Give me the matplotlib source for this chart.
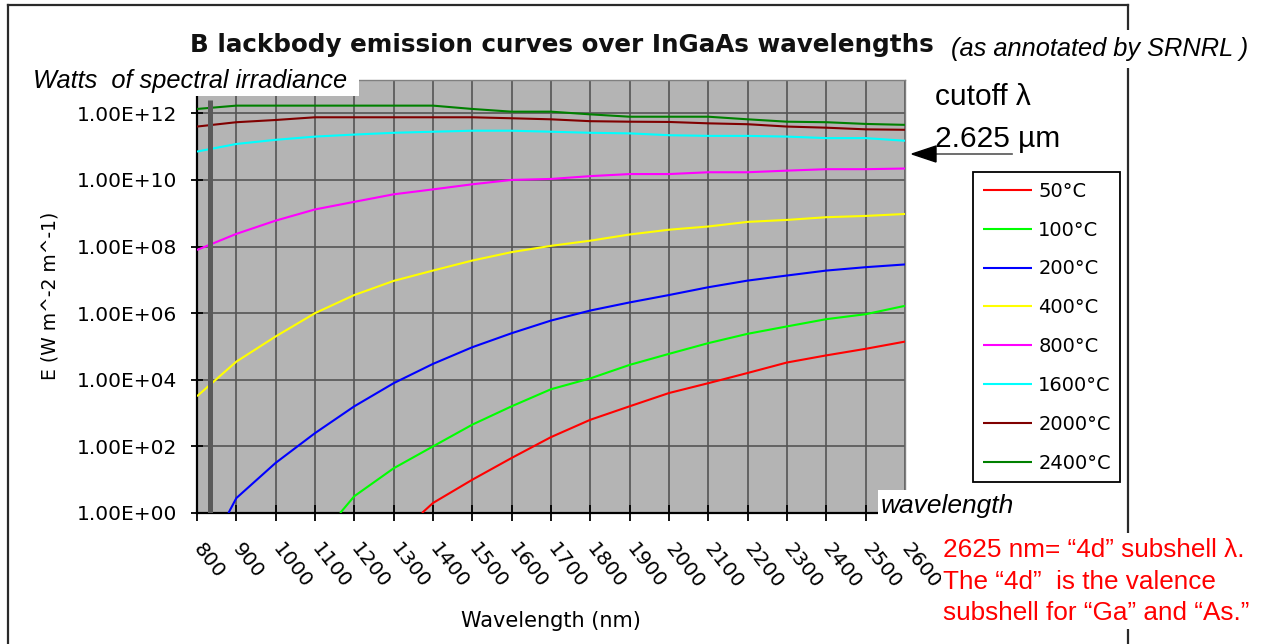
import math
import matplotlib
matplotlib.use("Agg")
import matplotlib.pyplot as plt
from matplotlib.lines import Line2D
from matplotlib.patches import Rectangle, Polygon
from matplotlib.ticker import FixedLocator, FuncFormatter, NullLocator

# ---------------- data ----------------
wl = [800, 900, 1000, 1100, 1200, 1300, 1400, 1500, 1600, 1700,
      1800, 1900, 2000, 2100, 2200, 2300, 2400, 2500, 2600]

e_2400 = [1.35e12, 1.7e12, 1.7e12, 1.7e12, 1.7e12, 1.7e12, 1.7e12, 1.35e12, 1.12e12, 1.12e12,
          9.3e11, 7.9e11, 7.9e11, 7.9e11, 6.6e11, 5.6e11, 5.4e11, 4.8e11, 4.5e11]
e_2000 = [4.0e11, 5.4e11, 6.3e11, 7.6e11, 7.6e11, 7.6e11, 7.6e11, 7.6e11, 7.1e11, 6.6e11,
          5.8e11, 5.6e11, 5.5e11, 5.0e11, 4.7e11, 4.0e11, 3.7e11, 3.3e11, 3.2e11]
e_1600 = [7.1e10, 1.2e11, 1.6e11, 2.0e11, 2.3e11, 2.6e11, 2.8e11, 3.0e11, 3.0e11, 2.8e11,
          2.6e11, 2.5e11, 2.2e11, 2.1e11, 2.1e11, 2.0e11, 1.8e11, 1.8e11, 1.5e11]
e_800 = [7.9e7, 2.4e8, 6.0e8, 1.3e9, 2.2e9, 3.7e9, 5.2e9, 7.4e9, 1.0e10, 1.07e10,
         1.3e10, 1.5e10, 1.5e10, 1.7e10, 1.7e10, 1.9e10, 2.1e10, 2.1e10, 2.2e10]
e_400 = [3.2e3, 3.5e4, 2.0e5, 1.0e6, 3.5e6, 9.3e6, 1.9e7, 3.8e7, 6.8e7, 1.05e8,
         1.5e8, 2.3e8, 3.2e8, 4.0e8, 5.5e8, 6.3e8, 7.6e8, 8.3e8, 9.5e8]

wl_200 = [880] + wl[1:]
e_200 = [1.0, 2.8, 32, 250, 1.6e3, 7.9e3, 3.0e4, 9.5e4, 2.5e5, 6.0e5,
         1.2e6, 2.1e6, 3.5e6, 6.0e6, 9.5e6, 1.35e7, 1.9e7, 2.4e7, 2.9e7]
wl_100 = [1164] + wl[4:]
e_100 = [1.0, 3.2, 22, 100, 450, 1.6e3, 5.2e3, 1.1e4, 2.8e4, 6.0e4,
         1.26e5, 2.4e5, 4.0e5, 6.6e5, 9.3e5, 1.66e6]
wl_50 = [1372] + wl[6:]
e_50 = [1.0, 2.0, 10, 45, 190, 630, 1.6e3, 4.0e3, 7.9e3, 1.6e4, 3.3e4, 5.4e4, 8.5e4, 1.4e5]

labels = ["50\u00b0C", "100\u00b0C", "200\u00b0C", "400\u00b0C", "800\u00b0C",
          "1600\u00b0C", "2000\u00b0C", "2400\u00b0C"]
xs = [wl_50, wl_100, wl_200, wl, wl, wl, wl, wl]
ys = [e_50, e_100, e_200, e_400, e_800, e_1600, e_2000, e_2400]
colors = ["#ff0000", "#00ff00", "#0000ff", "#ffff00", "#ff00ff", "#00ffff", "#800000", "#008000"]

y_ticks = [1e0, 1e2, 1e4, 1e6, 1e8, 1e10, 1e12]
y_limits = (1e0, 1e13)
marker_wl = 832          # dark vertical marker line
marker_top = 2.5e12

# ---------------- figure ----------------
W, H = 1271, 644
fig = plt.figure(figsize=(W / 100, H / 100), dpi=100)
fig.patch.set_facecolor("white")

def fx(x):
    return x / W

def fy(y):
    return 1 - y / H

ax = fig.add_axes([fx(197), fy(513), fx(905) - fx(197), fy(80) - fy(513)])
ax.set_facecolor("#b4b4b4")
ax.set_yscale("log")
ax.set_xlim(800, 2600)
ax.set_ylim(*y_limits)

for x, y, c, l in zip(xs, ys, colors, labels):
    ax.plot(x, y, color=c, lw=1.5, label=l, zorder=3, solid_capstyle="butt")

ax.plot([marker_wl, marker_wl], [y_limits[0], marker_top], color="#5a5a5a", lw=3.6, zorder=4,
        solid_capstyle="butt")

ax.xaxis.set_major_locator(FixedLocator(wl))
ax.yaxis.set_major_locator(FixedLocator(y_ticks))
ax.yaxis.set_minor_locator(NullLocator())
ax.yaxis.set_major_formatter(FuncFormatter(lambda v, p: "1.00E+%02d" % round(math.log10(v))))
ax.set_xticklabels([str(w) for w in wl])

ax.set_axisbelow(True)
ax.grid(True, which="major", color="#555555", lw=1.2)

for s in ("top", "right"):
    ax.spines[s].set_color("#808080")
    ax.spines[s].set_linewidth(1.0)
for s in ("left", "bottom"):
    ax.spines[s].set_color("black")
    ax.spines[s].set_linewidth(1.6)

ax.tick_params(axis="y", direction="inout", length=9, width=1.3, pad=10,
               labelsize=14.5, labelfontfamily="DejaVu Sans")
ax.tick_params(axis="x", direction="inout", length=11, width=1.3, pad=18,
               labelsize=14.5, labelfontfamily="DejaVu Sans")
for lbl in ax.get_xticklabels():
    lbl.set_rotation(-52)
    lbl.set_ha("left")
    lbl.set_va("center")
    lbl.set_rotation_mode("anchor")

# axis titles
fig.text(fx(551), fy(621), "Wavelength (nm)", ha="center", va="center",
         fontsize=15, family="DejaVu Sans")
fig.text(fx(50), fy(296), "E (W m^-2 m^-1)", ha="center", va="center",
         rotation=90, fontsize=13.5, family="DejaVu Sans")

# legend
leg = fig.legend(loc="upper left", bbox_to_anchor=(fx(973), fy(172)),
                 bbox_transform=fig.transFigure, frameon=True, fancybox=False,
                 edgecolor="black", facecolor="white", framealpha=1,
                 prop={"family": "DejaVu Sans", "size": 14},
                 borderaxespad=0, borderpad=0.5, labelspacing=1.02,
                 handlelength=2.55, handletextpad=0.3)
leg.get_frame().set_linewidth(1.3)

# outer frame
for xy in (([8, 8], [5, 644]), ([8, 1128], [5, 5]), ([1128, 1128], [5, 644])):
    fig.add_artist(Line2D([fx(v) for v in xy[0]], [fy(v) for v in xy[1]],
                          color="#2a2a2a", lw=1.6, zorder=0.5))

# title
fig.text(fx(190), fy(52), "B lackbody emission curves over InGaAs wavelengths",
         ha="left", va="baseline", fontsize=17.7, fontweight="bold",
         family="DejaVu Sans", color="#111111")
fig.add_artist(Rectangle((fx(948), fy(68)), fx(1262) - fx(948), fy(30) - fy(68),
                         transform=fig.transFigure, facecolor="white", edgecolor="none", zorder=2))
fig.text(fx(951), fy(56), "(as annotated by SRNRL )", ha="left", va="baseline",
         fontsize=18.3, style="italic", family="Liberation Sans", zorder=3)

# Watts label box
fig.add_artist(Rectangle((fx(28), fy(96)), fx(359) - fx(28), fy(63) - fy(96),
                         transform=fig.transFigure, facecolor="white", edgecolor="none", zorder=2))
fig.text(fx(33), fy(88), "Watts  of spectral irradiance", ha="left", va="baseline",
         fontsize=18.3, style="italic", family="Liberation Sans", zorder=3)

# cutoff annotation
fig.text(fx(935), fy(105), "cutoff \u03bb", ha="left", va="baseline",
         fontsize=21.5, family="Liberation Sans")
fig.text(fx(935), fy(147), "2.625 \u00b5m", ha="left", va="baseline",
         fontsize=21.5, family="Liberation Sans")
fig.add_artist(Line2D([fx(930), fx(1012)], [fy(154), fy(154)], color="#555555", lw=1.2, zorder=3))
fig.add_artist(Polygon([(fx(912), fy(154)), (fx(936), fy(146)), (fx(936), fy(162))],
                       closed=True, transform=fig.transFigure, facecolor="black",
                       edgecolor="black", zorder=3))

# wavelength label
fig.add_artist(Rectangle((fx(878), fy(523)), fx(1017) - fx(878), fy(490) - fy(523),
                         transform=fig.transFigure, facecolor="white", edgecolor="none", zorder=2))
fig.text(fx(881), fy(513), "wavelength", ha="left", va="baseline",
         fontsize=19, style="italic", family="Liberation Sans", zorder=3)

# red note
fig.add_artist(Rectangle((fx(941), fy(629)), fx(1260) - fx(941), fy(533) - fy(629),
                         transform=fig.transFigure, facecolor="white", edgecolor="none", zorder=2))
red_lines = ["2625 nm= \u201c4d\u201d subshell \u03bb.",
             "The \u201c4d\u201d  is the valence",
             "subshell for \u201cGa\u201d and \u201cAs.\u201d"]
for txt, base in zip(red_lines, (557, 589, 620)):
    fig.text(fx(943), fy(base), txt, ha="left", va="baseline", color="#ff0000",
             fontsize=18.8, family="Liberation Sans", zorder=3)

fig.savefig("out.png", dpi=100, facecolor="white")
